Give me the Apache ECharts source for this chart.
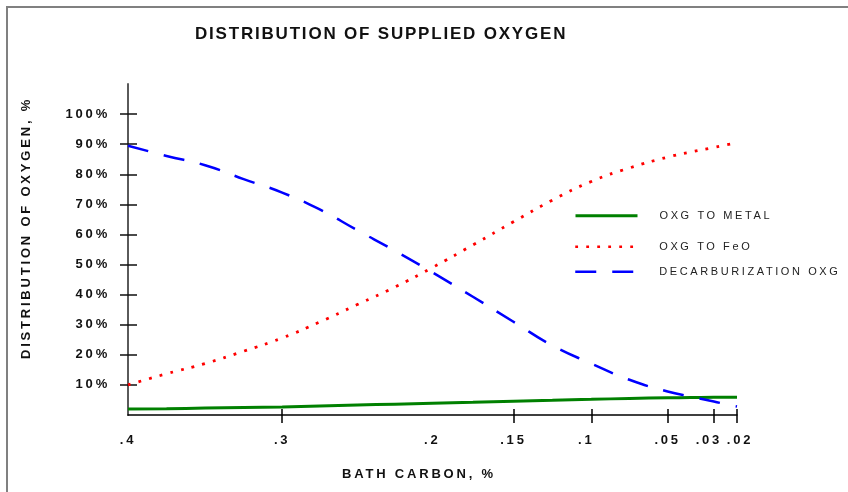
<!DOCTYPE html>
<html>
<head>
<meta charset="utf-8">
<script src="https://cdn.jsdelivr.net/npm/echarts@6/dist/echarts.min.js"></script>
<style>
  html, body { margin: 0; padding: 0; background: #fff; }
  #chart { width: 848px; height: 492px; }
</style>
</head>
<body>
<div id="chart"></div>
<script>
// bath carbon, %
const carbon = [.4, .375, .35, .325, .3, .275, .25, .225, .2, .175, .15, .125, .1, .075, .05, .04, .03, .025, .02];
const oxgToMetal = [2.0, 2.1, 2.3, 2.5, 2.7, 3.0, 3.3, 3.6, 3.9, 4.2, 4.6, 4.9, 5.2, 5.5, 5.7, 5.8, 5.9, 5.9, 5.9];
const oxgToFeO = [10.0, 13.7, 17.1, 21.2, 25.6, 30.9, 36.7, 42.5, 49.0, 56.5, 64.2, 71.4, 77.6, 82.1, 85.7, 87.4, 88.9, 89.7, 90.4];
const decarbOxg = [89.5, 86.1, 83.0, 78.4, 73.9, 68.3, 61.4, 54.6, 47.4, 39.3, 31.0, 23.1, 17.1, 11.7, 7.8, 6.1, 4.5, 3.6, 2.8];

// the x scale of the original is irregular: ticks sit at these axis positions
const tickCarbon = [.4, .3, .2, .15, .1, .05, .03, .02];
const tickPos = [0, 1, 1.974, 2.5, 3.005, 3.5, 3.8, 3.95];
const tickLabels = ['.4', '.3', '.2', '.15', '.1', '.05', '.03', '.02'];
const yTicks = [10, 20, 30, 40, 50, 60, 70, 80, 90, 100];

// carbon -> axis position, piecewise linear between ticks
function carbonToPos(c) {
  for (let i = 0; i < tickCarbon.length - 1; i++) {
    const a = tickCarbon[i], b = tickCarbon[i + 1];
    if (c <= a && c >= b) {
      return tickPos[i] + (a - c) / (a - b) * (tickPos[i + 1] - tickPos[i]);
    }
  }
  return c > tickCarbon[0] ? tickPos[0] : tickPos[tickPos.length - 1];
}
const toPairs = vals => carbon.map((c, i) => [carbonToPos(c), vals[i]]);

// a few labels sit off-centre in the original (the last two crowd each other)
const nudged = { '.1': 'l', '.03': 'l', '.02': 'r' };
const xLabel = v => {
  const t = tickLabels[tickPos.findIndex(p => Math.abs(p - v) < 1e-6)] || '';
  return nudged[t] ? '{' + nudged[t] + '|' + t + '}' : t;
};

// all text in the original is letter-spaced; canvas can do that, echarts can't
const spacingBySize = { 17: 1.8, 13: 2.8, 11: 2.6 };
(function () {
  const proto = CanvasRenderingContext2D.prototype;
  const setSpacing = ctx => {
    const m = /(\d+(?:\.\d+)?)px/.exec(ctx.font);
    const s = m ? (spacingBySize[Math.round(+m[1])] || 0) : 0;
    ctx.letterSpacing = s + 'px';
  };
  ['fillText', 'strokeText', 'measureText'].forEach(fn => {
    const orig = proto[fn];
    proto[fn] = function () { setSpacing(this); return orig.apply(this, arguments); };
  });
})();

const font = 'Liberation Sans, Arial, sans-serif';
const chart = echarts.init(document.getElementById('chart'), null, { renderer: 'canvas' });

const legendBase = {
  left: 574,
  padding: 0,
  orient: 'vertical',
  itemWidth: 62,
  itemHeight: 14,
  selectedMode: false,
  itemStyle: { opacity: 0 },
  textStyle: { fontFamily: font, fontSize: 11, color: '#222', padding: [0, 0, 0, 17] }
};
const labelStyle = { fontFamily: font, fontSize: 13, fontWeight: 'bold', color: '#111' };
const xRich = {
  l: Object.assign({ padding: [0, 10, 0, 0] }, labelStyle),
  r: Object.assign({ padding: [0, 0, 0, 6] }, labelStyle)
};
const tickValues = tickPos.filter((p, i) => i !== 0 && i !== 2);

chart.setOption({
  animation: false,
  title: {
    text: 'DISTRIBUTION OF SUPPLIED OXYGEN',
    left: 195,
    top: 25,
    padding: 0,
    textStyle: { fontFamily: font, fontSize: 17, fontWeight: 'bold', color: '#111' }
  },
  legend: [
    Object.assign({}, legendBase, { top: 209, data: ['OXG TO METAL'], lineStyle: { width: 3 } }),
    Object.assign({}, legendBase, { top: 240, data: ['OXG TO FeO'], lineStyle: { width: 2.5 } }),
    Object.assign({}, legendBase, { top: 265, data: ['DECARBURIZATION OXG'], lineStyle: { width: 2.5 } })
  ],
  grid: { left: 128, right: 111, top: 84, bottom: 77 },
  xAxis: [
    {
      type: 'value',
      min: 0,
      max: tickPos[tickPos.length - 1],
      splitLine: { show: false },
      axisLine: { lineStyle: { color: '#000', width: 1.5 } },
      axisTick: { length: 8, lineStyle: { color: '#000', width: 1.5 }, customValues: tickValues },
      axisLabel: Object.assign({
        margin: 18,
        customValues: tickPos.slice(0, -1),
        formatter: xLabel,
        rich: xRich
      }, labelStyle)
    },
    {
      // inner half of the crossing ticks, plus the crowded last label
      type: 'value',
      min: 0,
      max: tickPos[tickPos.length - 1],
      position: 'bottom',
      splitLine: { show: false },
      axisLine: { show: false },
      axisTick: { inside: true, length: 6, lineStyle: { color: '#000', width: 1.5 }, customValues: tickValues },
      axisLabel: Object.assign({
        margin: 18,
        showMaxLabel: true,
        customValues: tickPos.slice(-1),
        formatter: xLabel,
        rich: xRich
      }, labelStyle)
    }
  ],
  yAxis: [
    {
      type: 'value',
      min: 0,
      max: 110,
      splitLine: { show: false },
      axisLine: { show: true, lineStyle: { color: '#5a5a5a', width: 2 } },
      axisTick: { show: true, length: 8, lineStyle: { color: '#111', width: 1.5 }, customValues: yTicks },
      axisLabel: Object.assign({
        margin: 18,
        customValues: yTicks,
        formatter: '{value}%'
      }, labelStyle)
    },
    {
      type: 'value',
      min: 0,
      max: 110,
      position: 'left',
      splitLine: { show: false },
      axisLine: { show: false },
      axisLabel: { show: false },
      axisTick: { show: true, inside: true, length: 9, lineStyle: { color: '#111', width: 1.5 }, customValues: yTicks }
    }
  ],
  graphic: [
    {
      type: 'rect',
      shape: { x: 7, y: 7, width: 900, height: 600 },
      style: { fill: 'none', stroke: '#808080', lineWidth: 2 },
      silent: true
    },
    {
      type: 'text',
      x: 26,
      y: 228,
      rotation: Math.PI / 2,
      style: {
        text: 'DISTRIBUTION OF OXYGEN, %',
        font: 'bold 13px ' + font,
        fill: '#111',
        align: 'center',
        verticalAlign: 'middle'
      }
    },
    {
      type: 'text',
      x: 419,
      y: 474,
      style: {
        text: 'BATH CARBON, %',
        font: 'bold 13px ' + font,
        fill: '#111',
        align: 'center',
        verticalAlign: 'middle'
      }
    }
  ],
  series: [
    {
      name: 'OXG TO METAL',
      type: 'line',
      smooth: true,
      symbol: 'none',
      data: toPairs(oxgToMetal),
      lineStyle: { color: '#008000', width: 3 },
      itemStyle: { color: '#008000' }
    },
    {
      name: 'OXG TO FeO',
      type: 'line',
      smooth: true,
      symbol: 'none',
      data: toPairs(oxgToFeO),
      lineStyle: { color: '#ff0000', width: 2.8, type: [2.8, 8.2] },
      itemStyle: { color: '#ff0000' }
    },
    {
      name: 'DECARBURIZATION OXG',
      type: 'line',
      smooth: true,
      symbol: 'none',
      data: toPairs(decarbOxg),
      lineStyle: { color: '#0000ff', width: 2.5, type: [21, 16] },
      itemStyle: { color: '#0000ff' }
    }
  ]
});
</script>
</body>
</html>
